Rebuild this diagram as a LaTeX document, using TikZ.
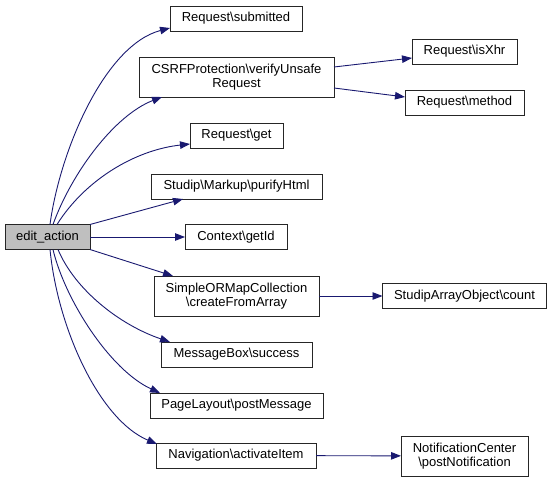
\documentclass[tikz,border=0pt]{standalone}
\usepackage{fontspec}
\setmainfont{Liberation Sans}
\usetikzlibrary{arrows.meta}
\definecolor{edgec}{HTML}{191970}
\definecolor{boxc}{HTML}{BFBFBF}
\tikzset{
  fn/.style={draw=black!85, line width=0.9bp, fill=white, inner sep=0pt, outer sep=0pt,
    minimum height=25bp, align=center, font=\fontsize{13.05pt}{14.5pt}\selectfont},
  fn2/.style={fn, minimum height=40bp},
  call/.style={draw=edgec, line width=0.9bp, -{Triangle[length=10bp,width=7.5bp]}, fill=none},
}
\begin{document}
\begin{tikzpicture}[x=1bp,y=-1bp]
\useasboundingbox (0,0) rectangle (552,482);
\node[fn, fill=boxc, minimum width=85bp] (edit) at (47.5,237) {edit\_action};
\node[fn, minimum width=132bp] (submitted) at (236,18.5) {Request\textbackslash submitted};
\node[fn2, minimum width=195bp] (csrf) at (236.5,77) {CSRFProtection\textbackslash verifyUnsafe\\Request};
\node[fn, minimum width=93bp] (get) at (236.5,135.5) {Request\textbackslash get};
\node[fn, minimum width=171bp] (purify) at (236.5,186.5) {Studip\textbackslash Markup\textbackslash purifyHtml};
\node[fn, minimum width=102bp] (getid) at (236,237) {Context\textbackslash getId};
\node[fn2, minimum width=165bp] (create) at (236.5,296) {SimpleORMapCollection\\\textbackslash createFromArray};
\node[fn, minimum width=151bp] (success) at (236.5,354.5) {MessageBox\textbackslash success};
\node[fn, minimum width=173bp] (postmsg) at (236.5,405.5) {PageLayout\textbackslash postMessage};
\node[fn, minimum width=160bp] (activate) at (236,455.5) {Navigation\textbackslash activateItem};
\node[fn, minimum width=105bp] (isxhr) at (464.5,51.5) {Request\textbackslash isXhr};
\node[fn, minimum width=119bp] (method) at (464.5,102.5) {Request\textbackslash method};
\node[fn, minimum width=164bp] (count) at (464.5,296) {StudipArrayObject\textbackslash count};
\node[fn2, minimum width=127bp] (notif) at (464.5,456) {NotificationCenter\\\textbackslash postNotification};
% calls from edit_action
\draw[call] ([xshift=2.5bp]edit.north) .. controls (60,150) and (105,45) .. ([xshift=-66bp,yshift=3bp]submitted.south);
\draw[call] ([xshift=5.5bp]edit.north) .. controls (72,172) and (115,115) .. ([xshift=-74.5bp]csrf.south);
\draw[call] ([xshift=9.5bp]edit.north) .. controls (85,180) and (135,150) .. ([yshift=4bp]get.south west);
\draw[call] (edit.north east) -- ([xshift=-53.5bp]purify.south);
\draw[call] (edit) -- (getid);
\draw[call] (edit.south east) -- ([xshift=-63.5bp]create.north);
\draw[call] ([xshift=10.5bp]edit.south) .. controls (75,290) and (120,325) .. ([xshift=-66.5bp]success.north);
\draw[call] ([xshift=5.5bp]edit.south) .. controls (65,300) and (110,370) .. ([xshift=-76.5bp]postmsg.north);
\draw[call] ([xshift=2.5bp]edit.south) .. controls (58,330) and (100,420) .. ([xshift=1bp,yshift=-1bp]activate.north west);
% second level
\draw[call] ([yshift=10bp]csrf.east) -- ([yshift=-6.5bp]isxhr.west);
\draw[call] ([yshift=-11bp]csrf.east) -- ([yshift=5.5bp]method.west);
\draw[call] (create) -- (count);
\draw[call] (activate) -- (notif);
\end{tikzpicture}
\end{document}
